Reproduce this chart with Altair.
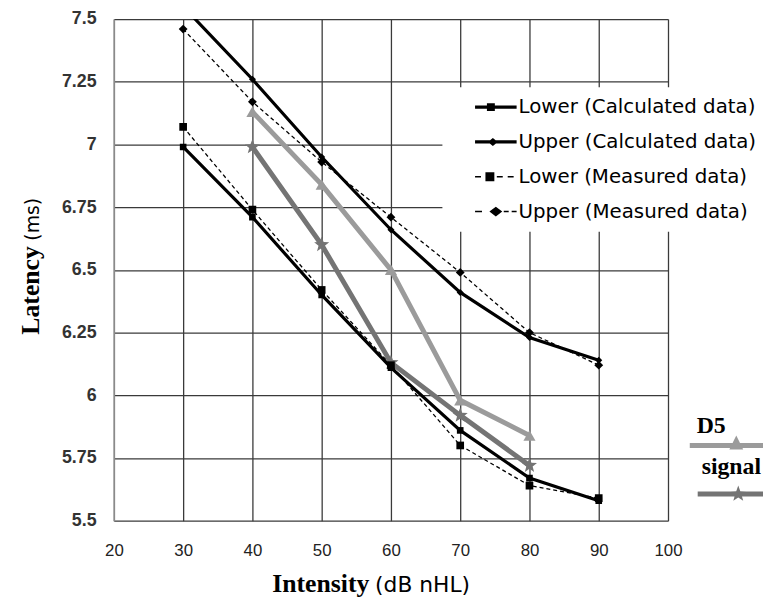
import math
import altair as alt
import pandas as pd

# ---------------- data ----------------
intensity = [30, 40, 50, 60, 70, 80, 90]
lower_calc = [6.99, 6.71, 6.40, 6.11, 5.86, 5.67, 5.58]
upper_calc = [7.55, 7.26, 6.95, 6.66, 6.41, 6.23, 6.14]
lower_meas = [7.07, 6.74, 6.42, 6.12, 5.80, 5.64, 5.59]
upper_meas = [7.46, 7.17, 6.93, 6.71, 6.49, 6.25, 6.12]

wave_intensity = [40, 50, 60, 70, 80]
d5_latency = [7.13, 6.84, 6.50, 5.98, 5.84]
signal_latency = [6.99, 6.60, 6.13, 5.92, 5.72]

x_ticks = [20, 30, 40, 50, 60, 70, 80, 90, 100]
y_ticks = [5.5, 5.75, 6.0, 6.25, 6.5, 6.75, 7.0, 7.25, 7.5]

black_names = ["Lower (Calculated data)", "Upper (Calculated data)",
               "Lower (Measured data)", "Upper (Measured data)"]

D5C = "#9b9b9b"
SIGC = "#747474"

# ---------------- symbol paths (style only) ----------------
def rect(x0, x1, y0, y1, r):
    return f"M{x0/r:.3f},{y0/r:.3f}H{x1/r:.3f}V{y1/r:.3f}H{x0/r:.3f}Z"

def diamond(cx, hw, hh, r):
    return (f"M{(cx-hw)/r:.3f},0L{cx/r:.3f},{-hh/r:.3f}"
            f"L{(cx+hw)/r:.3f},0L{cx/r:.3f},{hh/r:.3f}Z")

def star(cx, ro, ri, r):
    pts = []
    for k in range(10):
        a = -math.pi / 2 + k * math.pi / 5
        rr = ro if k % 2 == 0 else ri
        pts.append((cx + rr * math.cos(a), rr * math.sin(a)))
    s = "M" + "L".join(f"{px/r:.3f},{py/r:.3f}" for px, py in pts) + "Z"
    return s

R1 = 10  # legend symbol unit (symbolSize 400)
leg_paths = [
    rect(13, 55, -1.6, 1.6, R1) + rect(25, 33, -4, 4, R1),
    rect(13, 55, -1.6, 1.6, R1) + diamond(31, 5, 4, R1),
    rect(13, 19, -0.75, 0.75, R1) + rect(35, 41, -0.75, 0.75, R1)
    + rect(46, 52, -0.75, 0.75, R1) + rect(23.5, 32.5, -4.5, 4.5, R1),
    rect(13, 20, -0.75, 0.75, R1) + rect(42, 47, -0.75, 0.75, R1)
    + rect(50, 55, -0.75, 0.75, R1) + diamond(34, 6.5, 5, R1),
]

R2 = 5  # symbolSize 100
d5_leg_path = rect(-12, 74, -2.5, 2.5, R2) + (
    f"M{35/R2:.3f},{-10/R2:.3f}L{42/R2:.3f},{4/R2:.3f}L{28/R2:.3f},{4/R2:.3f}Z")
sig_leg_path = rect(-9, 69, -2.5, 2.5, R2) + star(32, 8.5, 3.5, R2)
star_shape = star(0, 1, 0.42, 1)

# ---------------- frames ----------------
def frame(xs, ys, name):
    return pd.DataFrame({"x": xs, "y": ys, "series": name})

df_lc = frame(intensity, lower_calc, black_names[0])
df_uc = frame(intensity, upper_calc, black_names[1])
df_lm = frame(intensity, lower_meas, black_names[2])
df_um = frame(intensity, upper_meas, black_names[3])
df_black = pd.concat([df_lc, df_uc, df_lm, df_um], ignore_index=True)
df_d5 = frame(wave_intensity, d5_latency, "D5")
df_sig = frame(wave_intensity, signal_latency, "signal")

X = alt.X("x:Q", scale=alt.Scale(domain=[20, 100], nice=False),
          axis=alt.Axis(values=x_ticks, title=None, ticks=False, domain=False,
                        labelFont="Liberation Sans", labelFontSize=17,
                        labelColor="#222", labelPadding=22, labelFlush=False,
                        gridColor="#3a3a3a", gridWidth=1.3))
Y = alt.Y("y:Q", scale=alt.Scale(domain=[5.5, 7.5], nice=False, zero=False),
          axis=alt.Axis(values=y_ticks, format=".2~f", title=None, ticks=False,
                        domainColor="#8a8a8a", domainWidth=1.5,
                        labelFont="Liberation Sans", labelFontSize=18,
                        labelFontWeight="bold", labelColor="#333",
                        labelPadding=18, labelFlush=False,
                        gridColor="#3a3a3a", gridWidth=1.3))

def line(df, color, width, dash=None):
    kw = dict(color=color, strokeWidth=width, clip=True)
    if dash:
        kw["strokeDash"] = dash
    return alt.Chart(df).mark_line(**kw).encode(x=X, y=Y)

def pts(df, shape, size, color):
    return alt.Chart(df).mark_point(shape=shape, size=size, filled=True,
                                    color=color, opacity=1, clip=True).encode(x=X, y=Y)

layers = [
    line(df_d5, D5C, 5), pts(df_d5, "triangle-up", 150, D5C),
    line(df_sig, SIGC, 5), pts(df_sig, star_shape, 256, SIGC),
    line(df_lm, "black", 1.3, [4, 3]), pts(df_lm, "square", 60, "black"),
    line(df_um, "black", 1.3, [4, 3]), pts(df_um, "diamond", 80, "black"),
    line(df_lc, "black", 3.2), pts(df_lc, "square", 45, "black"),
    line(df_uc, "black", 3.2), pts(df_uc, "diamond", 50, "black"),
]

leg_black = alt.Chart(df_black).mark_point(filled=True, opacity=0, color="black", clip=True).encode(
    x=X, y=Y,
    shape=alt.Shape("series:N", scale=alt.Scale(domain=black_names, range=leg_paths),
                    legend=alt.Legend(orient="none", legendX=332, legendY=69, title=None,
                                      fillColor="white", padding=10, symbolSize=400,
                                      symbolStrokeWidth=0, symbolOpacity=1,
                                      labelFont="DejaVu Sans", labelFontSize=20,
                                      labelColor="black", labelOffset=47,
                                      labelLimit=320, rowPadding=15.2)))

leg_d5 = alt.Chart(df_d5).mark_point(filled=True, opacity=0, color=D5C, clip=True).encode(
    x=X, y=Y,
    shape=alt.Shape("series:N", scale=alt.Scale(domain=["D5"], range=[d5_leg_path]),
                    legend=alt.Legend(orient="none", legendX=589, legendY=399, title="D5",
                                      titleFont="Liberation Serif", titleFontSize=24,
                                      titleFontWeight="bold", titleColor="black",
                                      titlePadding=3, padding=0, symbolSize=100,
                                      symbolStrokeWidth=0, symbolOpacity=1,
                                      labelExpr="''", labelFontSize=10)))

leg_sig = alt.Chart(df_sig).mark_point(filled=True, opacity=0, color=SIGC, clip=True).encode(
    x=X, y=Y,
    shape=alt.Shape("series:N", scale=alt.Scale(domain=["signal"], range=[sig_leg_path]),
                    legend=alt.Legend(orient="none", legendX=594, legendY=441, title="signal",
                                      titleFont="Liberation Serif", titleFontSize=24,
                                      titleFontWeight="bold", titleColor="black",
                                      titlePadding=10, padding=0, symbolSize=100,
                                      symbolStrokeWidth=0, symbolOpacity=1,
                                      labelExpr="''", labelFontSize=10)))

one = pd.DataFrame({"k": [0]})
def txt(text, x, y, font, size, weight="normal", angle=0):
    return alt.Chart(one).mark_text(text=text, font=font, fontSize=size, fontWeight=weight,
                                    angle=angle, align="left", baseline="alphabetic",
                                    color="black").encode(x=alt.value(x), y=alt.value(y))

titles = [
    txt("Intensity", 160, 579, "Liberation Serif", 26, "bold"),
    txt("(dB nHL)", 264, 579, "DejaVu Sans", 22),
    txt("Latency", -76, 319, "Liberation Serif", 26, "bold", 270),
    txt("(ms)", -76, 224, "DejaVu Sans", 19, "normal", 270),
]

chart = alt.layer(*layers, leg_black, leg_d5, leg_sig, *titles).resolve_scale(
    shape="independent"
).properties(
    width=560, height=507,
    autosize=alt.AutoSizeParams(type="none"),
    padding={"left": 107, "top": 8, "right": 96, "bottom": 78},
).configure_view(strokeWidth=0)

chart.save("out.html", embed_options={"renderer": "svg", "actions": False})
